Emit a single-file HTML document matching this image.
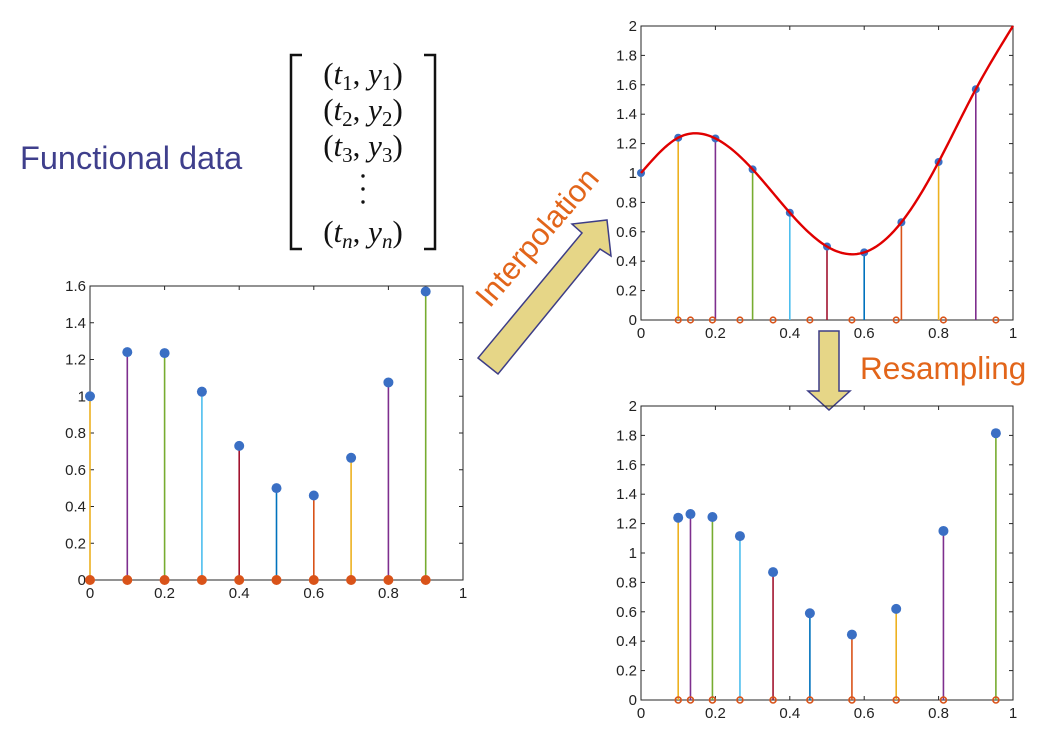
<!DOCTYPE html>
<html><head><meta charset="utf-8"><style>
html,body{margin:0;padding:0;background:#fff;}
svg{display:block;font-family:"Liberation Sans",sans-serif;}
</style></head><body>
<svg id="root" width="1058" height="740" viewBox="0 0 1058 740">
<text x="20" y="169" font-size="32.5" fill="#3f3f8c">Functional data</text>
<g font-family="'Liberation Serif',serif" font-size="31" fill="#111" text-anchor="middle">
<path d="M302,55 H291 V249 H302" fill="none" stroke="#111" stroke-width="2.5"/>
<path d="M424,55 H435 V249 H424" fill="none" stroke="#111" stroke-width="2.5"/>
<text x="363" y="84">(<tspan font-style="italic">t</tspan><tspan font-size="21" dy="6">1</tspan><tspan dy="-6">, </tspan><tspan font-style="italic">y</tspan><tspan font-size="21" dy="6">1</tspan><tspan dy="-6">)</tspan></text>
<text x="363" y="120">(<tspan font-style="italic">t</tspan><tspan font-size="21" dy="6">2</tspan><tspan dy="-6">, </tspan><tspan font-style="italic">y</tspan><tspan font-size="21" dy="6">2</tspan><tspan dy="-6">)</tspan></text>
<text x="363" y="156">(<tspan font-style="italic">t</tspan><tspan font-size="21" dy="6">3</tspan><tspan dy="-6">, </tspan><tspan font-style="italic">y</tspan><tspan font-size="21" dy="6">3</tspan><tspan dy="-6">)</tspan></text>
<g><circle cx="363" cy="176" r="1.7"/><circle cx="363" cy="189" r="1.7"/><circle cx="363" cy="202" r="1.7"/></g>
<text x="363" y="242">(<tspan font-style="italic">t</tspan><tspan font-size="21" dy="6" font-style="italic">n</tspan><tspan dy="-6">, </tspan><tspan font-style="italic">y</tspan><tspan font-size="21" dy="6" font-style="italic">n</tspan><tspan dy="-6">)</tspan></text>
</g>
<polygon points="478,358 498,374 600,249 611,256 607,220 572,224 582,233" fill="#e6d687" stroke="#3d3d86" stroke-width="1.5"/>
<text transform="translate(545,244) rotate(-49.5)" text-anchor="middle" font-size="31" fill="#e2651a">Interpolation</text>
<polygon points="819,331 839,331 839,391 850,391 829,410 808,391 819,391" fill="#e6d687" stroke="#3d3d86" stroke-width="1.5"/>
<text x="860" y="379" font-size="31.5" fill="#e2651a">Resampling</text>
<g id="c1"></g>
<g id="c2"></g>
<g id="c3"></g>
</svg>
<script>
const sampleT = [0, 0.1, 0.2, 0.3, 0.4, 0.5, 0.6, 0.7, 0.8, 0.9];
const sampleY = [1.0, 1.24, 1.235, 1.025, 0.73, 0.5, 0.46, 0.665, 1.075, 1.57];
const curveEndT = 1.0;
const curveEndY = 2.0;
const resampleT = [0.1, 0.133, 0.192, 0.266, 0.355, 0.454, 0.567, 0.686, 0.813, 0.954];
const resampleY = [1.24, 1.265, 1.245, 1.115, 0.87, 0.59, 0.445, 0.62, 1.15, 1.815];
const xTicks = [0, 0.2, 0.4, 0.6, 0.8, 1];
const xTickLabels = ['0', '0.2', '0.4', '0.6', '0.8', '1'];
const yTicks16 = [0, 0.2, 0.4, 0.6, 0.8, 1, 1.2, 1.4, 1.6];
const yTicks2 = [0, 0.2, 0.4, 0.6, 0.8, 1, 1.2, 1.4, 1.6, 1.8, 2];
const palette = ['#EDB120','#7E2F8E','#77AC30','#4DBEEE','#A2142F','#0072BD','#D95319'];
const NS = 'http://www.w3.org/2000/svg';
function mk(parent, tag, attrs){const e=document.createElementNS(NS,tag);for(const k in attrs)e.setAttribute(k,attrs[k]);parent.appendChild(e);return e;}
function fmt(v){return String(+v.toFixed(2));}
function axes(g, x0, x1, y0, y1, ymax, yTicks){
  const sx=v=>x0+(x1-x0)*v, sy=v=>y1-(y1-y0)*v/ymax;
  const box=mk(g,'rect',{x:x0,y:y0,width:x1-x0,height:y1-y0,fill:'none',stroke:'#262626','stroke-width':1});
  
  
  xTicks.forEach((t,i)=>{
    const X=sx(t);
    mk(g,'line',{x1:X,x2:X,y1:y1,y2:y1-4,stroke:'#262626'});
    mk(g,'line',{x1:X,x2:X,y1:y0,y2:y0+4,stroke:'#262626'});
    const tx=mk(g,'text',{x:X,y:y1+18,'text-anchor':'middle','font-size':15,fill:'#222'});
    tx.textContent=xTickLabels[i];
    
    
  });
  yTicks.forEach(v=>{
    const Y=sy(v);
    mk(g,'line',{x1:x0,x2:x0+4,y1:Y,y2:Y,stroke:'#262626'});
    mk(g,'line',{x1:x1,x2:x1-4,y1:Y,y2:Y,stroke:'#262626'});
    const tx=mk(g,'text',{x:x0-4,y:Y+5,'text-anchor':'end','font-size':15,fill:'#222'});
    tx.textContent=fmt(v);
    
    
  });
  return {sx,sy};
}
function stems(g, s, ts, ys, colorOffset, topR, baseR, baseOpen, y1){
  ts.forEach((t,i)=>{
    const X=s.sx(t), Y=s.sy(ys[i]);
    const ln=mk(g,'line',{x1:X,x2:X,y1:y1,y2:Y,stroke:palette[(i+colorOffset)%7],'stroke-width':1.6});
    
    
  });
  ts.forEach((t,i)=>{
    const X=s.sx(t);
    const b=baseOpen?mk(g,'circle',{cx:X,cy:y1,r:baseR,fill:'none',stroke:'#D95319','stroke-width':1.6}):mk(g,'circle',{cx:X,cy:y1,r:baseR,fill:'#D95319'});
    
    
  });
  if(topR>0) ts.forEach((t,i)=>{
    const c=mk(g,'circle',{cx:s.sx(t),cy:s.sy(ys[i]),r:topR,fill:'#3a6fc4'});
    
    
  });
}
function spline(xs, ys){
  const n=xs.length-1,h=[],al=[],l=[1],mu=[0],z=[0],c=new Array(n+1).fill(0),b=[],d=[];
  for(let i=0;i<n;i++)h.push(xs[i+1]-xs[i]);
  for(let i=1;i<n;i++)al[i]=3/h[i]*(ys[i+1]-ys[i])-3/h[i-1]*(ys[i]-ys[i-1]);
  for(let i=1;i<n;i++){l[i]=2*(xs[i+1]-xs[i-1])-h[i-1]*mu[i-1];mu[i]=h[i]/l[i];z[i]=(al[i]-h[i-1]*z[i-1])/l[i];}
  for(let j=n-1;j>=0;j--){c[j]=(j>0?z[j]:0)-mu[j]*c[j+1];b[j]=(ys[j+1]-ys[j])/h[j]-h[j]*(c[j+1]+2*c[j])/3;d[j]=(c[j+1]-c[j])/(3*h[j]);}
  c[0]=0;
  return x=>{let j=0;while(j<n-1&&x>xs[j+1])j++;const dx=x-xs[j];return ys[j]+b[j]*dx+c[j]*dx*dx+d[j]*dx*dx*dx;};
}
(function(){
  const g=document.getElementById('c1');
  const s=axes(g,90,463,286,580,1.6,yTicks16);
  stems(g,s,sampleT,sampleY,0,5,5,false,580);
})();
(function(){
  const g=document.getElementById('c2');
  const s=axes(g,641,1013,26,320,2,yTicks2);
  stems(g,s,sampleT.slice(1),sampleY.slice(1),0,0,0,false,320);
  resampleT.forEach(t=>{
    const c=mk(g,'circle',{cx:s.sx(t),cy:320,r:2.8,fill:'none',stroke:'#D95319','stroke-width':1.6});
    
    
  });
  sampleT.forEach((t,i)=>{
    const c=mk(g,'circle',{cx:s.sx(t),cy:s.sy(sampleY[i]),r:4,fill:'#3a6fc4'});
    
    
  });
  const f=spline(sampleT.concat([curveEndT]),sampleY.concat([curveEndY]));
  let d='';
  for(let k=0;k<=200;k++){const t=k/200;d+=(k?'L':'M')+s.sx(t).toFixed(2)+','+s.sy(f(t)).toFixed(2);}
  const p=mk(g,'path',{d:d,fill:'none',stroke:'#e00000','stroke-width':2.4});
  
  
})();
(function(){
  const g=document.getElementById('c3');
  const s=axes(g,641,1013,406,700,2,yTicks2);
  stems(g,s,resampleT,resampleY,0,5,3,true,700);
})();
</script>
</body></html>
